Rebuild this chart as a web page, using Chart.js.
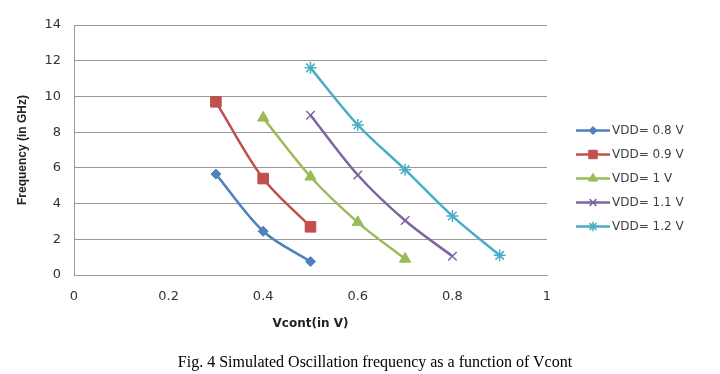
<!DOCTYPE html>
<html>
<head>
<meta charset="utf-8">
<script src="https://cdn.jsdelivr.net/npm/chart.js@4"></script>
<style>
  body { margin: 0; background: #fff; }
  #wrap { position: relative; width: 720px; height: 374px; }
  #caption {
    position: absolute; left: 0; width: 750px; top: 353px;
    text-align: center; font-family: "Liberation Serif", serif; font-size: 16px; color: #000;
  }
</style>
</head>
<body>
<div id="wrap">
  <canvas id="myChart" width="720" height="374"></canvas>
  <div id="caption">Fig. 4 Simulated Oscillation frequency as a function of Vcont</div>
</div>
<script>
// data
var seriesNames = ["VDD= 0.8 V", "VDD= 0.9 V", "VDD= 1 V", "VDD= 1.1 V", "VDD= 1.2 V"];
var vcont08 = [0.3, 0.4, 0.5];
var freq08 = [5.65, 2.45, 0.75];
var vcont09 = [0.3, 0.4, 0.5];
var freq09 = [9.7, 5.4, 2.7];
var vcont10 = [0.4, 0.5, 0.6, 0.7];
var freq10 = [8.8, 5.5, 2.95, 0.9];
var vcont11 = [0.5, 0.6, 0.7, 0.8];
var freq11 = [8.95, 5.6, 3.05, 1.05];
var vcont12 = [0.5, 0.6, 0.7, 0.8, 0.9];
var freq12 = [11.6, 8.4, 5.9, 3.3, 1.1];
var xTicks = [0, 0.2, 0.4, 0.6, 0.8, 1];
var yTicks = [0, 2, 4, 6, 8, 10, 12, 14];

var colors = ["#4F81BD", "#C0504D", "#9BBB59", "#8064A2", "#4BACC6"];
var markers = ["rectRot", "rect", "triangle", "crossRot", "star"];
var markerSize = [5, 7.5, 6.5, 6, 6];

function pairs(xs, ys) {
  return xs.map(function (x, i) { return { x: x, y: ys[i] }; });
}
var allData = [
  pairs(vcont08, freq08),
  pairs(vcont09, freq09),
  pairs(vcont10, freq10),
  pairs(vcont11, freq11),
  pairs(vcont12, freq12)
];

var datasets = allData.map(function (d, i) {
  return {
    label: seriesNames[i],
    data: d,
    showLine: true,
    borderColor: colors[i],
    backgroundColor: colors[i],
    borderWidth: 2.5,
    tension: 0.33,
    pointStyle: markers[i],
    pointRadius: markerSize[i],
    pointBorderWidth: (i >= 3 ? 1.5 : 1),
    pointBorderColor: colors[i],
    pointBackgroundColor: colors[i]
  };
});

// legend drawn like Excel: short line with marker, text to the right
var sideLegend = {
  id: "sideLegend",
  afterDraw: function (chart) {
    var ctx = chart.ctx;
    ctx.save();
    chart.data.datasets.forEach(function (ds, i) {
      var y = 130.5 + i * 24;
      ctx.strokeStyle = ds.borderColor;
      ctx.fillStyle = ds.borderColor;
      ctx.lineWidth = 2.5;
      ctx.beginPath();
      ctx.moveTo(576, y);
      ctx.lineTo(610, y);
      ctx.stroke();
      ctx.lineWidth = ds.pointBorderWidth;
      Chart.helpers.drawPoint(ctx, {
        pointStyle: ds.pointStyle,
        radius: ds.pointRadius * 0.8,
        borderWidth: ds.pointBorderWidth
      }, 593, y);
      ctx.fillStyle = "#404040";
      ctx.font = "12px 'DejaVu Sans'";
      ctx.textBaseline = "middle";
      ctx.fillText(ds.label, 612, y);
    });
    ctx.restore();
  }
};

var ctx = document.getElementById("myChart").getContext("2d");
var chart = new Chart(ctx, {
  type: "scatter",
  data: { datasets: datasets },
  options: {
    responsive: false,
    animation: false,
    layout: { padding: { left: 0, top: 25, right: 173, bottom: 39 } },
    plugins: {
      legend: { display: false },
      tooltip: { enabled: false }
    },
    scales: {
      x: {
        type: "linear",
        min: 0,
        max: 1,
        afterFit: function (s) { s.height = 60; },
        afterBuildTicks: function (s) { s.ticks = xTicks.map(function (v) { return { value: v }; }); },
        grid: { display: false, drawTicks: false },
        border: { display: true, color: "#999999", width: 1 },
        ticks: {
          padding: 14,
          color: "#333333",
          font: { family: "DejaVu Sans", size: 13 },
          callback: function (v) { return String(v); }
        },
        title: {
          display: true,
          text: "Vcont(in V)",
          color: "#222222",
          font: { family: "DejaVu Sans", size: 12, weight: "bold" },
          padding: { top: 0, bottom: 4 }
        }
      },
      y: {
        type: "linear",
        min: 0,
        max: 14,
        afterFit: function (s) { s.width = 74; },
        afterBuildTicks: function (s) { s.ticks = yTicks.map(function (v) { return { value: v }; }); },
        grid: { color: "#999999", lineWidth: 1, drawTicks: false },
        border: { display: true, color: "#999999", width: 1 },
        ticks: {
          padding: 13,
          color: "#333333",
          font: { family: "DejaVu Sans", size: 13 }
        },
        title: {
          display: true,
          text: "Frequency (in GHz)",
          color: "#222222",
          font: { family: "Liberation Sans", size: 12, weight: "bold" },
          padding: { top: 15, bottom: 0 }
        }
      }
    }
  },
  plugins: [sideLegend]
});
</script>
</body>
</html>
